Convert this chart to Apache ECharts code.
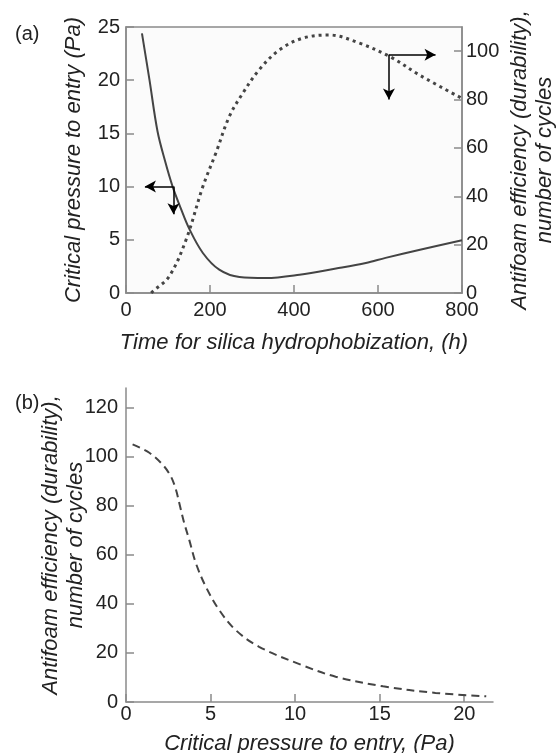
<!DOCTYPE html>
<html>
<head>
<meta charset="utf-8">
<script src="https://cdn.jsdelivr.net/npm/echarts@6/dist/echarts.min.js"></script>
</head>
<body style="margin:0;background:#fff">
<div id="main" style="width:557px;height:753px;"></div>
<script type="text/javascript">
    // (a) critical pressure vs. hydrophobization time [h, Pa]
    var pressureVsTime = [
        [38, 24.4], [56, 20], [75, 15.2], [93, 12.4], [111, 10], [130, 8],
        [151, 6], [183, 3.76], [222, 2.19], [270, 1.5], [333, 1.41],
        [413, 1.72], [500, 2.3], [571, 2.82], [618, 3.3], [700, 4.07], [800, 4.95]
    ];
    // (a) antifoam durability vs. hydrophobization time [h, cycles]
    var durabilityVsTime = [
        [60, 0], [64, 0.7], [103, 6.9], [143, 22], [183, 44], [214, 57.9],
        [246, 73], [278, 82.6], [317, 92.3], [365, 100.5], [421, 105.4],
        [484, 106.7], [556, 103.3], [630, 97.6], [700, 90], [800, 80.5]
    ];
    // (b) antifoam durability vs. critical pressure [Pa, cycles]
    var durabilityVsPressure = [
        [0.39, 105], [1.38, 101.6], [2.16, 96.8], [2.65, 92], [2.95, 86.6],
        [3.15, 81.1], [3.44, 73], [3.74, 66.1], [4.13, 56.6], [4.72, 47],
        [5.51, 37.5], [6.49, 29.3], [7.87, 22.5], [10.42, 15], [12.4, 10.3],
        [15.2, 6.4], [18.3, 3.7], [21.3, 2.3]
    ];
    // arrows pointing to the axis each curve belongs to
    var leftArrows = [[[113, 10], [45, 10]], [[113, 10], [113, 7.4]]];
    var rightArrows = [[[626, 98.5], [737, 98.5]], [[626, 98.5], [626, 80]]];

    var myChart = echarts.init(document.getElementById('main'));

    var font = 'Liberation Sans';
    var axisGrey = '#8a8a8a';
    var ink = '#222';
    var curve = '#444';

    function tickAxis(extra) {
        var base = {
            axisLine: {show: true, lineStyle: {color: axisGrey, width: 1.5}},
            axisTick: {show: true, inside: true, length: 8, lineStyle: {color: axisGrey, width: 1.5}},
            splitLine: {show: false},
            axisLabel: {color: ink, fontFamily: font, fontSize: 20},
            nameTextStyle: {color: ink, fontFamily: font, fontSize: 22, fontStyle: 'italic', lineHeight: 25},
            nameLocation: 'middle',
            nameMoveOverlap: false
        };
        for (var k in extra) {
            if (typeof extra[k] === 'object' && base[k] && !Array.isArray(extra[k])) {
                base[k] = Object.assign({}, base[k], extra[k]);
            } else {
                base[k] = extra[k];
            }
        }
        return base;
    }

    function arrowLines(pairs) {
        return pairs.map(function (p) {
            return [{coord: p[0]}, {coord: p[1]}];
        });
    }

    var option = {
        backgroundColor: '#fff',
        animation: false,
        title: [{
            text: '(a)', left: 10, top: 19,
            textStyle: {fontFamily: font, fontSize: 20, fontWeight: 'normal', color: ink}
        }, {
            text: '(b)', left: 10, top: 388,
            textStyle: {fontFamily: font, fontSize: 20, fontWeight: 'normal', color: ink}
        }],
        grid: [{
            left: 126, right: 95, top: 27, bottom: 460,
            outerBoundsMode: 'none',
            show: true, borderColor: axisGrey, borderWidth: 1.5,
            backgroundColor: '#fbfbfb'
        }, {
            left: 126, right: 64, top: 388, bottom: 51,
            outerBoundsMode: 'none'
        }],
        xAxis: [
            tickAxis({
                type: 'value', gridIndex: 0, min: 0, max: 800, interval: 200,
                name: 'Time for silica hydrophobization, (h)', nameGap: 37,
                axisLabel: {margin: 7}
            }),
            tickAxis({
                type: 'value', gridIndex: 1, min: 0, max: 21.7, interval: 5,
                name: 'Critical pressure to entry, (Pa)', nameGap: 29,
                axisLabel: {margin: 2, showMaxLabel: false}
            })
        ],
        yAxis: [
            tickAxis({
                type: 'value', gridIndex: 0, min: 0, max: 25, interval: 5,
                name: 'Critical pressure to entry (Pa)', nameGap: 40,
                axisLabel: {margin: 6}
            }),
            tickAxis({
                type: 'value', gridIndex: 0, position: 'right', min: 0, max: 110, interval: 20,
                name: 'Antifoam efficiency (durability),\nnumber of cycles', nameGap: 45,
                axisLabel: {margin: 4, showMaxLabel: false}
            }),
            tickAxis({
                type: 'value', gridIndex: 1, min: 0, max: 128, interval: 20,
                name: 'Antifoam efficiency (durability),\nnumber of cycles', nameGap: 38,
                axisLabel: {margin: 8, showMaxLabel: false}
            })
        ],
        series: [{
            type: 'line',
            xAxisIndex: 0,
            yAxisIndex: 0,
            smooth: 0.35,
            showSymbol: false,
            lineStyle: {color: curve, width: 2},
            data: pressureVsTime,
            markLine: {
                silent: true,
                symbol: ['none', 'arrow'],
                symbolSize: [9, 11],
                label: {show: false},
                lineStyle: {color: '#000', width: 1.5, type: 'solid'},
                data: arrowLines(leftArrows)
            }
        }, {
            type: 'line',
            xAxisIndex: 0,
            yAxisIndex: 1,
            smooth: 0.35,
            showSymbol: false,
            lineStyle: {color: curve, width: 3, type: [3, 4]},
            data: durabilityVsTime,
            markLine: {
                silent: true,
                symbol: ['none', 'arrow'],
                symbolSize: [9, 11],
                label: {show: false},
                lineStyle: {color: '#000', width: 1.5, type: 'solid'},
                data: arrowLines(rightArrows)
            }
        }, {
            type: 'line',
            xAxisIndex: 1,
            yAxisIndex: 2,
            smooth: 0.35,
            showSymbol: false,
            lineStyle: {color: curve, width: 2, type: [8, 5]},
            data: durabilityVsPressure
        }]
    };

    myChart.setOption(option);
</script>
</body>
</html>
